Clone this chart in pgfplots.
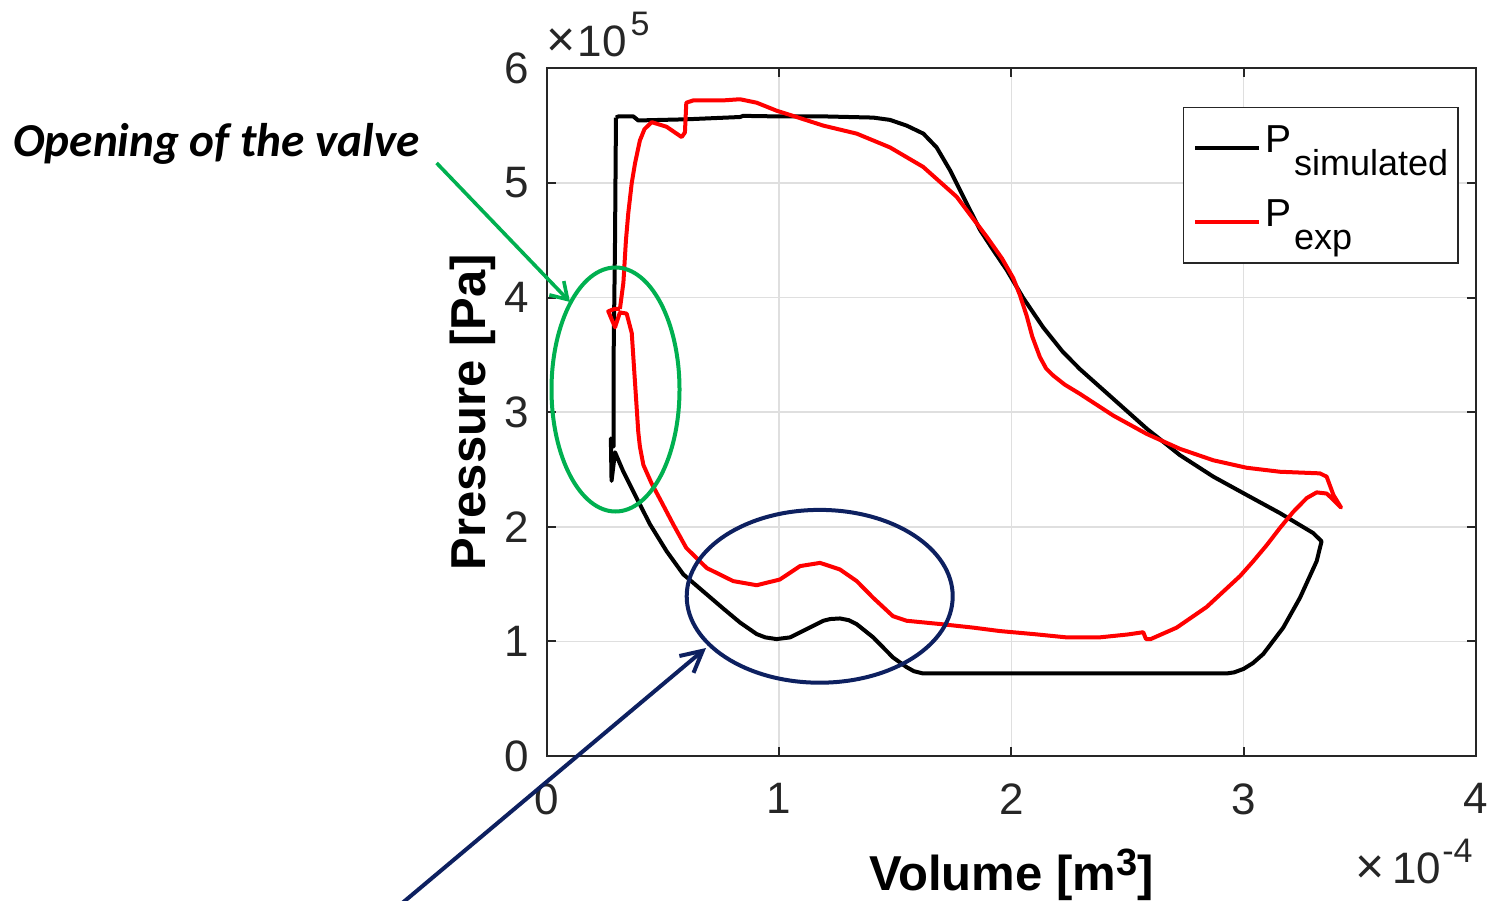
\documentclass[border=0pt]{standalone}
\usepackage{fontspec}
\setmainfont{Liberation Sans}
\newfontfamily\carlito{Carlito}
\usepackage{pgfplots}
\pgfplotsset{compat=1.18}
\usetikzlibrary{arrows.meta}
\definecolor{axgray}{HTML}{262626}
\definecolor{gridgray}{HTML}{DFDFDF}
\definecolor{pptgreen}{HTML}{00B050}
\definecolor{pptnavy}{HTML}{0D2060}
\begin{document}
\begin{tikzpicture}
\useasboundingbox (0,0) rectangle (746pt,450pt);
\begin{axis}[
  at={(273.5pt,72pt)}, anchor=south west,
  scale only axis, width=464.35pt, height=343.85pt,
  xmin=0, xmax=4, ymin=0, ymax=6,
  xtick={0,1,2,3,4}, ytick={0,1,2,3,4,5,6},
  tick pos=both, ticklabel pos=left, tick align=inside,
  major tick length=4.3pt,
  grid=major,
  major grid style={draw=gridgray, line width=0.8pt},
  axis line style={draw=axgray, line width=1pt},
  tick style={draw=axgray, line width=1pt},
  /pgf/number format/assume math mode=true,
  ticklabel style={font=\fontsize{22}{22}\selectfont, text=axgray, inner sep=0pt},
  xticklabel style={anchor=north, yshift=-13.5pt},
  yticklabel style={anchor=east, xshift=-9pt},
  xlabel={Volume [m\raisebox{7.5pt}{\fontsize{19}{19}\selectfont 3}]},
  ylabel={Pressure [Pa]},
  xlabel style={at={(axis description cs:0.5,-0.19485)}, anchor=base, inner sep=0pt, font=\fontsize{24.5}{24.5}\selectfont\bfseries},
  ylabel style={at={(axis description cs:-0.06676,0.5)}, anchor=base, inner sep=0pt, font=\fontsize{24.5}{24.5}\selectfont\bfseries},
  legend cell align=left,
  legend image code/.code={\draw[#1] (0pt,0pt) -- (32pt,0pt);},
  legend style={at={(axis description cs:0.6845,0.944)}, anchor=north west,
    draw=axgray, line width=0.75pt, fill=white,
    inner xsep=5pt, inner ysep=1.8pt,
    font=\fontsize{19.5}{19.5}\selectfont,
    nodes={inner sep=0pt, text height=20.7pt, text depth=16.3pt},
    /tikz/every odd column/.append style={column sep=1.8pt}},
  clip=false,
]
\addplot[black, line width=2pt, line join=round] coordinates {
(0.297,5.570) (0.307,5.580) (0.372,5.580) (0.393,5.545) (0.600,5.555)
(0.831,5.575) (0.845,5.585) (1.000,5.580) (1.200,5.580) (1.405,5.570)
(1.477,5.550) (1.549,5.500) (1.621,5.430) (1.678,5.310) (1.736,5.110)
(1.793,4.880) (1.865,4.590) (1.920,4.420) (1.980,4.240) (2.050,4.000)
(2.137,3.740) (2.220,3.530) (2.295,3.376) (2.439,3.116) (2.583,2.856)
(2.726,2.625) (2.870,2.437) (3.013,2.278) (3.157,2.119) (3.300,1.945)
(3.336,1.873) (3.315,1.700) (3.243,1.380) (3.171,1.120) (3.085,0.890)
(3.040,0.810) (3.000,0.760) (2.960,0.730) (2.927,0.720)
(2.500,0.720) (2.000,0.720) (1.620,0.720) (1.580,0.740) (1.549,0.775) (1.490,0.860)
(1.405,1.035) (1.334,1.150) (1.300,1.185) (1.262,1.200) (1.220,1.195) (1.190,1.180) (1.118,1.107)
(1.047,1.035) (0.989,1.020) (0.940,1.035) (0.903,1.064) (0.831,1.165) (0.760,1.285) (0.688,1.410)
(0.587,1.585) (0.515,1.787) (0.444,2.020) (0.386,2.250) (0.329,2.480)
(0.293,2.650) (0.278,2.400) (0.275,2.770) (0.287,2.700) (0.287,3.500)
(0.293,4.500) (0.297,5.570)
};
\addlegendentry{P\hspace{1.5pt}\raisebox{-11.7pt}{\fontsize{18}{18}\selectfont simulated}}
\addplot[red, line width=2pt, line join=round] coordinates {
(0.314,3.900) (0.329,4.130) (0.340,4.500) (0.350,4.735) (0.365,5.000)
(0.379,5.170) (0.400,5.370) (0.420,5.470) (0.451,5.530) (0.515,5.490)
(0.580,5.400) (0.594,5.440) (0.600,5.700) (0.630,5.720) (0.759,5.720)
(0.831,5.730) (0.903,5.700) (0.989,5.630) (1.075,5.575) (1.190,5.500)
(1.334,5.430) (1.477,5.310) (1.620,5.140) (1.764,4.880) (1.894,4.530)
(1.960,4.340) (2.008,4.170) (2.037,4.020) (2.066,3.840) (2.090,3.660)
(2.123,3.480) (2.150,3.380) (2.180,3.320) (2.230,3.240) (2.295,3.160) (2.439,2.970) (2.583,2.810)
(2.726,2.680) (2.870,2.580) (3.013,2.515) (3.157,2.480) (3.329,2.466)
(3.358,2.437) (3.387,2.278) (3.420,2.168) (3.387,2.235) (3.358,2.290)
(3.315,2.300) (3.272,2.250) (3.214,2.130) (3.157,1.990) (3.100,1.840)
(3.042,1.700) (2.985,1.570) (2.841,1.300) (2.712,1.120) (2.600,1.020)
(2.580,1.020) (2.568,1.080) (2.500,1.060) (2.380,1.035) (2.238,1.035)
(2.094,1.064) (1.951,1.090) (1.836,1.120) (1.700,1.150) (1.549,1.180)
(1.490,1.220) (1.405,1.380) (1.334,1.526) (1.262,1.627) (1.176,1.685)
(1.090,1.657) (1.003,1.540) (0.903,1.490) (0.802,1.526) (0.688,1.640)
(0.600,1.815) (0.544,2.020) (0.487,2.240) (0.450,2.380) (0.415,2.540)
(0.400,2.700) (0.393,2.830) (0.379,3.260) (0.365,3.690) (0.343,3.860)
(0.314,3.870) (0.293,3.740) (0.264,3.880) (0.290,3.900) (0.314,3.900)
};
\addlegendentry{P\hspace{1.5pt}\raisebox{-11.7pt}{\fontsize{18}{18}\selectfont exp}}
\end{axis}
% axis multipliers
\node[anchor=base west, inner sep=0pt, text=axgray, font=\fontsize{22}{22}\selectfont]
  at (273pt,421.5pt) {{\fontsize{25}{25}\selectfont ×}\hspace{1pt}10\hspace{2pt}\raisebox{10.5pt}{\fontsize{17}{17}\selectfont 5}};
\node[anchor=base east, inner sep=0pt, text=axgray, font=\fontsize{22}{22}\selectfont]
  at (736.5pt,8.5pt) {{\fontsize{25}{25}\selectfont ×}\hspace{4pt}10\hspace{0.5pt}\raisebox{10.5pt}{\fontsize{17}{17}\selectfont -4}};
% annotations
\draw[pptgreen, line width=2pt] (307.75pt,255.25pt) ellipse [x radius=32pt, y radius=61pt];
\draw[pptnavy, line width=2pt] (409.85pt,151.85pt) ellipse [x radius=66.5pt, y radius=43.2pt];
\draw[pptgreen, line width=1.8pt, -{Straight Barb[length=8pt,width=10pt]}] (218.3pt,368.5pt) -- (285pt,299pt);
\draw[pptnavy, line width=2pt, -{Straight Barb[length=10.6pt,width=11pt]}] (197pt,-5pt) -- (353pt,126pt);
\node[anchor=base west, inner sep=0pt, font=\fontsize{23.6}{23.6}\selectfont\carlito\bfseries\itshape]
  at (6.5pt,371.65pt) {Opening of the valve};
\end{tikzpicture}
\end{document}
